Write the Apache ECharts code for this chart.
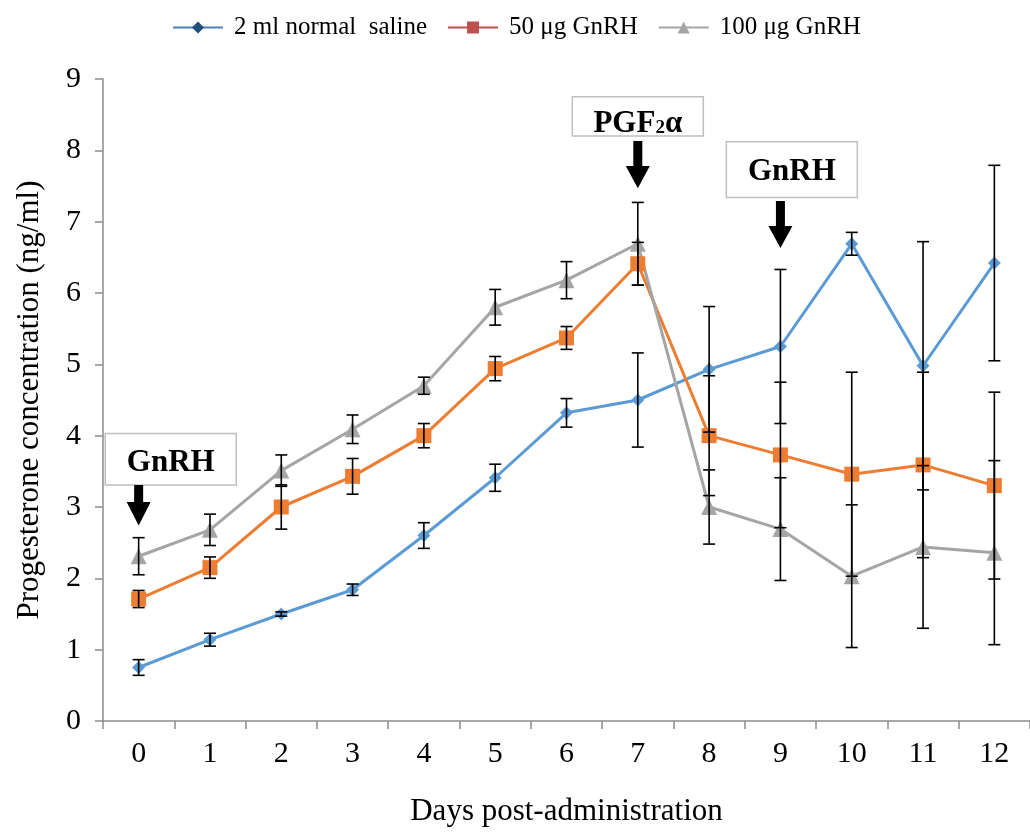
<!DOCTYPE html>
<html>
<head>
<meta charset="utf-8">
<script src="https://cdn.jsdelivr.net/npm/echarts@6.0.0/dist/echarts.min.js"></script>
<style>
  html, body { margin: 0; padding: 0; background: #fff; }
  #chart { width: 1030px; height: 832px; }
</style>
</head>
<body>
<div id="chart"></div>
<script>
// Days after treatment
const days = ['0', '1', '2', '3', '4', '5', '6', '7', '8', '9', '10', '11', '12'];
const yTicks = [0, 1, 2, 3, 4, 5, 6, 7, 8, 9];

// Mean progesterone (ng/ml) and standard error per group
const salineMean = [0.75, 1.14, 1.50, 1.84, 2.60, 3.41, 4.32, 4.50, 4.93, 5.25, 6.69, 4.98, 6.42];
const salineErr  = [0.11, 0.09, 0.03, 0.08, 0.18, 0.19, 0.20, 0.66, 0.88, 1.08, 0.16, 1.74, 1.37];
const gnrh50Mean = [1.71, 2.15, 3.00, 3.43, 4.00, 4.94, 5.37, 6.41, 4.00, 3.73, 3.46, 3.59, 3.30];
const gnrh50Err  = [0.12, 0.15, 0.31, 0.25, 0.17, 0.17, 0.16, 0.30, 0.84, 1.02, 1.43, 1.30, 1.31];
const gnrh100Mean = [2.31, 2.68, 3.51, 4.09, 4.70, 5.80, 6.18, 6.69, 3.00, 2.69, 2.03, 2.44, 2.36];
const gnrh100Err  = [0.26, 0.22, 0.22, 0.20, 0.12, 0.25, 0.26, 0.58, 0.52, 0.72, 1.00, 1.14, 1.29];

const seriesNames = ['2 ml normal  saline', '50 μg GnRH', '100 μg GnRH'];

// Treatment events marked above the curves
const events = [
  { text: '{m|GnRH}', day: 0, arrowTop: 3.31, arrowHead: 3.07, arrowTip: 2.74,
    boxDay: 0.45, boxTop: 4.03, boxBottom: 3.31, textY: 3.64 },
  { text: '{m|PGF}{s|2}{m|α}', day: 7, arrowTop: 8.13, arrowHead: 7.78, arrowTip: 7.47,
    boxDay: 7.0, boxTop: 8.75, boxBottom: 8.20, textY: 8.39 },
  { text: '{m|GnRH}', day: 9, arrowTop: 7.29, arrowHead: 6.94, arrowTip: 6.63,
    boxDay: 9.16, boxTop: 8.12, boxBottom: 7.34, textY: 7.72 }
];

const FONT = '"Liberation Serif", "Times New Roman", serif';

function errorBars(name, means, errs) {
  return {
    type: 'custom',
    name: name,
    z: 5,
    silent: true,
    encode: { x: 0, y: [1, 2] },
    data: means.map((m, i) => [i, +(m - errs[i]).toFixed(3), +(m + errs[i]).toFixed(3)]),
    renderItem: function (params, api) {
      const x = api.value(0);
      const lo = api.coord([x, api.value(1)]);
      const hi = api.coord([x, api.value(2)]);
      const hw = 6;
      const st = { stroke: '#000', lineWidth: 1.6 };
      return {
        type: 'group',
        children: [
          { type: 'line', shape: { x1: hi[0], y1: hi[1], x2: lo[0], y2: lo[1] }, style: st },
          { type: 'line', shape: { x1: hi[0] - hw, y1: hi[1], x2: hi[0] + hw, y2: hi[1] }, style: st },
          { type: 'line', shape: { x1: lo[0] - hw, y1: lo[1], x2: lo[0] + hw, y2: lo[1] }, style: st }
        ]
      };
    }
  };
}

function lineSeries(name, means, color, symbol, size) {
  return {
    type: 'line',
    name: name,
    data: means,
    z: 3,
    symbol: symbol,
    symbolSize: size,
    lineStyle: { color: color, width: 3 },
    itemStyle: { color: color },
    emphasis: { disabled: true }
  };
}

const chart = echarts.init(document.getElementById('chart'), null, { renderer: 'canvas' });

chart.setOption({
  animation: false,
  backgroundColor: '#ffffff',
  textStyle: { fontFamily: FONT },
  legend: {
    top: 10,
    left: 167,
    itemWidth: 50,
    itemHeight: 15,
    itemGap: 20,
    textStyle: { fontFamily: FONT, fontSize: 25, color: '#000', padding: [0, 0, 0, 6] },
    selectedMode: false,
    data: [
      { name: seriesNames[0], itemStyle: { color: '#1F4E79' }, lineStyle: { color: '#4A7EBB', width: 2 } },
      { name: seriesNames[1], itemStyle: { color: '#C0504D' }, lineStyle: { color: '#C0504D', width: 2 } },
      { name: seriesNames[2], itemStyle: { color: '#A6A6A6' }, lineStyle: { color: '#A6A6A6', width: 2 } }
    ]
  },
  grid: { left: 103, right: -1, top: 79, bottom: 103, containLabel: false },
  xAxis: {
    type: 'category',
    data: days,
    boundaryGap: true,
    name: 'Days post-administration',
    nameLocation: 'middle',
    nameGap: 75,
    nameTextStyle: { fontFamily: FONT, fontSize: 31, color: '#000' },
    axisLine: { lineStyle: { color: '#8C8C8C', width: 1.5 } },
    axisTick: { show: true, alignWithLabel: false, length: 8, lineStyle: { color: '#8C8C8C', width: 1.5 } },
    axisLabel: { fontFamily: FONT, fontSize: 30, color: '#000', margin: 18 },
    splitLine: { show: false }
  },
  yAxis: {
    type: 'value',
    min: yTicks[0],
    max: yTicks[yTicks.length - 1],
    interval: 1,
    name: 'Progesterone concentration (ng/ml)',
    nameLocation: 'middle',
    nameGap: 58,
    nameTextStyle: { fontFamily: FONT, fontSize: 31, color: '#000' },
    axisLine: { show: true, lineStyle: { color: '#8C8C8C', width: 1.5 } },
    axisTick: { show: true, length: 8, lineStyle: { color: '#8C8C8C', width: 1.5 } },
    axisLabel: { fontFamily: FONT, fontSize: 30, color: '#000', margin: 22 },
    splitLine: { show: false }
  },
  series: [
    lineSeries(seriesNames[0], salineMean, '#5B9BD5', 'diamond', 13),
    lineSeries(seriesNames[1], gnrh50Mean, '#ED7D31', 'rect', 15),
    lineSeries(seriesNames[2], gnrh100Mean, '#A5A5A5', 'triangle', 16),
    errorBars('saline SE', salineMean, salineErr),
    errorBars('50 SE', gnrh50Mean, gnrh50Err),
    errorBars('100 SE', gnrh100Mean, gnrh100Err)
  ]
});

// Event boxes and arrows, placed through the chart's own axes
const toPx = (d, v) => chart.convertToPixel({ xAxisIndex: 0, yAxisIndex: 0 }, [d, v]);
const graphics = [];
events.forEach(ev => {
  const boxTop = toPx(ev.day, ev.boxTop)[1];
  const boxBottom = toPx(ev.day, ev.boxBottom)[1];
  const step = toPx(1, 0)[0] - toPx(0, 0)[0];
  const boxCx = toPx(0, 0)[0] + ev.boxDay * step;
  const boxW = 131;
  graphics.push({
    type: 'rect', z: 20,
    shape: { x: boxCx - boxW / 2, y: boxTop, width: boxW, height: boxBottom - boxTop },
    style: { fill: '#fff', stroke: '#BFBFBF', lineWidth: 1.5 }
  });
  graphics.push({
    type: 'text', z: 21,
    style: {
      text: ev.text, x: boxCx, y: toPx(ev.day, ev.textY)[1],
      align: 'center', verticalAlign: 'middle',
      rich: {
        m: { fontFamily: FONT, fontSize: 31, fontWeight: 'bold', fill: '#000', lineHeight: 34, verticalAlign: 'bottom' },
        s: { fontFamily: FONT, fontSize: 19, fontWeight: 'bold', fill: '#000', lineHeight: 34, verticalAlign: 'bottom', padding: [0, 0, 2, 0] }
      }
    }
  });
  const ax = toPx(ev.day, 0)[0];
  const yTop = toPx(ev.day, ev.arrowTop)[1];
  const yHead = toPx(ev.day, ev.arrowHead)[1];
  const yTip = toPx(ev.day, ev.arrowTip)[1];
  const sw = 4.5, hw = 12;
  graphics.push({
    type: 'polygon', z: 21,
    shape: { points: [[ax - sw, yTop], [ax + sw, yTop], [ax + sw, yHead], [ax + hw, yHead], [ax, yTip], [ax - hw, yHead], [ax - sw, yHead]] },
    style: { fill: '#000' }
  });
});
chart.setOption({ graphic: graphics });
</script>
</body>
</html>
